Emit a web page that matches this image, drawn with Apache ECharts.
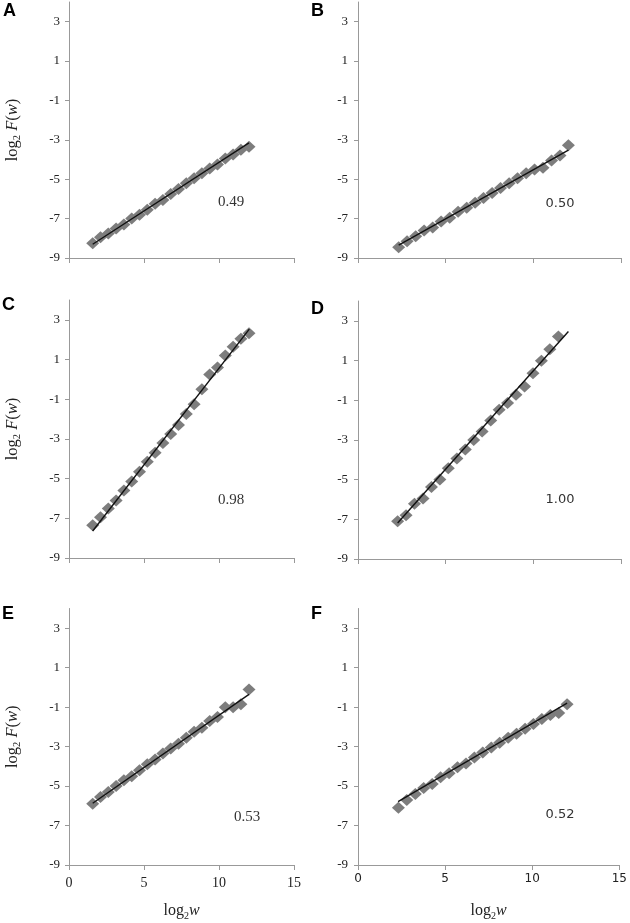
<!DOCTYPE html>
<html>
<head>
<meta charset="utf-8">
<script src="https://cdn.jsdelivr.net/npm/echarts@6/dist/echarts.min.js"></script>
<style>
html,body{margin:0;padding:0;background:#fff;}
#chart{width:630px;height:923px;}
</style>
</head>
<body>
<div id="chart"></div>
<script>
// ---------- data ----------
const panelLetters = ['A', 'B', 'C', 'D', 'E', 'F'];
const slopeLabels = ['0.49', '0.50', '0.98', '1.00', '0.53', '0.52'];
const xTicks = [0, 5, 10, 15];
const yTicks = [-9, -7, -5, -3, -1, 1, 3];

const xACE = [1.58, 2.10, 2.62, 3.14, 3.66, 4.18, 4.70, 5.22, 5.74, 6.26, 6.78, 7.30, 7.82, 8.34, 8.86, 9.38, 9.90, 10.42, 10.94, 11.46, 12.00];
const xBF = [2.32, 2.80, 3.29, 3.77, 4.26, 4.74, 5.23, 5.71, 6.20, 6.68, 7.16, 7.65, 8.13, 8.62, 9.10, 9.59, 10.07, 10.55, 11.04, 11.52, 12.00];
const xD = [2.26, 2.74, 3.22, 3.71, 4.19, 4.67, 5.15, 5.64, 6.12, 6.60, 7.08, 7.57, 8.05, 8.53, 9.01, 9.50, 9.98, 10.46, 10.94, 11.43];

const yA = [-8.25, -7.95, -7.75, -7.50, -7.30, -7.00, -6.80, -6.55, -6.25, -6.05, -5.75, -5.50, -5.20, -4.95, -4.70, -4.45, -4.25, -3.95, -3.75, -3.50, -3.35];
const yB = [-8.45, -8.15, -7.90, -7.60, -7.45, -7.15, -6.95, -6.65, -6.45, -6.20, -5.95, -5.70, -5.45, -5.20, -4.95, -4.70, -4.50, -4.42, -4.05, -3.80, -3.28];
const yC = [-7.35, -6.95, -6.50, -6.10, -5.60, -5.15, -4.65, -4.15, -3.70, -3.20, -2.75, -2.30, -1.75, -1.25, -0.50, 0.25, 0.60, 1.20, 1.65, 2.05, 2.33];
const yD = [-7.10, -6.80, -6.22, -5.95, -5.37, -5.00, -4.43, -3.93, -3.48, -3.00, -2.58, -2.02, -1.48, -1.14, -0.73, -0.31, 0.36, 0.99, 1.57, 2.21];
const yE = [-5.90, -5.55, -5.30, -5.00, -4.70, -4.50, -4.20, -3.90, -3.65, -3.35, -3.10, -2.85, -2.55, -2.25, -2.05, -1.70, -1.50, -1.00, -1.00, -0.85, -0.10];
const yF = [-6.10, -5.70, -5.40, -5.10, -4.90, -4.55, -4.35, -4.05, -3.85, -3.55, -3.30, -3.05, -2.80, -2.55, -2.35, -2.10, -1.85, -1.60, -1.40, -1.30, -0.85];

// fitted lines: [x0, x1], [y0, y1]
const fitAx = [1.58, 12.0],  fitAy = [-8.30, -3.15];
const fitBx = [2.32, 12.0],  fitBy = [-8.35, -3.52];
const fitCx = [1.58, 12.02], fitCy = [-7.64, 2.53];
const fitDx = [2.26, 12.0],  fitDy = [-7.19, 2.46];
const fitEx = [1.58, 12.0],  fitEy = [-5.87, -0.35];
const fitFx = [2.30, 12.0],  fitFy = [-5.79, -0.80];

const pointX = [xACE, xBF, xACE, xD, xACE, xBF];
const pointY = [yA, yB, yC, yD, yE, yF];
const fitX = [fitAx, fitBx, fitCx, fitDx, fitEx, fitFx];
const fitY = [fitAy, fitBy, fitCy, fitDy, fitEy, fitFy];

// ---------- layout ----------
const gridPos = [
  {left: 69, top: 2, width: 225, height: 256},
  {left: 358, top: 2, width: 263, height: 256},
  {left: 69, top: 300, width: 225, height: 258},
  {left: 358, top: 301, width: 263, height: 258},
  {left: 69, top: 608.5, width: 225, height: 256.5},
  {left: 358, top: 608.5, width: 263, height: 256.5}
];
const letterPos = [[3, 2], [311, 2], [2, 296], [311, 300], [2, 605], [311, 605]];
const slopePos = [[231, 202], [560, 204], [231, 500], [560, 500], [247, 817], [560, 815]];

const SERIF = '"Liberation Serif", "Times New Roman", serif';
const SANS = '"DejaVu Sans", Verdana, sans-serif';
const axisColor = '#999999';
const textColor = '#222';

const zip = (xs, ys) => xs.map((x, i) => [x, ys[i]]);

const grids = [], xAxes = [], yAxes = [], series = [], graphics = [];
for (let i = 0; i < 6; i++) {
  const leftCol = i % 2 === 0;
  const bottomRow = i >= 4;
  grids.push(Object.assign({containLabel: false}, gridPos[i]));
  xAxes.push({
    type: 'value', gridIndex: i, min: 0, max: 15, interval: 5,
    axisLine: {show: true, onZero: false, lineStyle: {color: axisColor, width: 1}},
    axisTick: {show: true, length: 5, lineStyle: {color: axisColor}},
    splitLine: {show: false},
    axisLabel: {
      show: bottomRow, margin: leftCol ? 11 : 8,
      fontFamily: leftCol ? SERIF : SANS, fontSize: leftCol ? 14 : 12, color: textColor
    },
    name: bottomRow ? '{n|log}{s|2}{i|w}' : '',
    nameLocation: 'middle', nameGap: 36,
    nameTextStyle: {
      rich: {
        n: {fontFamily: SERIF, fontSize: 16, color: textColor, lineHeight: 20},
        i: {fontFamily: SERIF, fontSize: 16, fontStyle: 'italic', color: textColor, lineHeight: 20},
        s: {fontFamily: SERIF, fontSize: 10, color: textColor, lineHeight: 10, verticalAlign: 'bottom'}
      }
    }
  });
  yAxes.push({
    type: 'value', gridIndex: i, min: -9, max: 4,
    axisLine: {show: true, onZero: false, lineStyle: {color: axisColor, width: 1}},
    axisTick: {show: true, length: 4, customValues: yTicks, lineStyle: {color: axisColor}},
    splitLine: {show: false},
    axisLabel: {
      customValues: yTicks, margin: leftCol ? 9 : 10,
      fontFamily: SERIF, fontSize: 13, color: textColor
    },
    name: leftCol ? '{n|log}{s|2}{n| }{i|F}{n|(}{i|w}{n|)}' : '',
    nameLocation: 'middle', nameGap: 46, nameRotate: 90,
    nameTextStyle: {
      rich: {
        n: {fontFamily: SERIF, fontSize: 16.5, color: textColor, lineHeight: 20},
        i: {fontFamily: SERIF, fontSize: 16.5, fontStyle: 'italic', color: textColor, lineHeight: 20},
        s: {fontFamily: SERIF, fontSize: 10.5, color: textColor, lineHeight: 10, verticalAlign: 'bottom'}
      }
    }
  });
  series.push({
    type: 'scatter', xAxisIndex: i, yAxisIndex: i,
    symbol: 'diamond', symbolSize: [13, 12],
    itemStyle: {color: '#7d7d7d', opacity: 1},
    data: zip(pointX[i], pointY[i]), z: 2, silent: true, animation: false
  });
  series.push({
    type: 'line', xAxisIndex: i, yAxisIndex: i,
    showSymbol: false, symbol: 'none',
    lineStyle: {color: '#111', width: 1.4},
    data: zip(fitX[i], fitY[i]), z: 3, silent: true, animation: false
  });
  graphics.push({
    type: 'text', left: letterPos[i][0], top: letterPos[i][1],
    style: {text: panelLetters[i], fontSize: 18, fontWeight: 'bold', fontFamily: '"Liberation Sans", Arial, sans-serif', fill: '#000'}
  });
  graphics.push({
    type: 'text', x: slopePos[i][0], y: slopePos[i][1],
    style: {
      text: slopeLabels[i], align: 'center', verticalAlign: 'middle',
      fontSize: leftCol ? 15 : 13, fontFamily: leftCol ? SERIF : SANS, fill: '#333'
    }
  });
}

const chart = echarts.init(document.getElementById('chart'), null, {renderer: 'canvas'});
chart.setOption({
  backgroundColor: '#fff',
  animation: false,
  grid: grids, xAxis: xAxes, yAxis: yAxes, series: series, graphic: graphics
});
</script>
</body>
</html>
